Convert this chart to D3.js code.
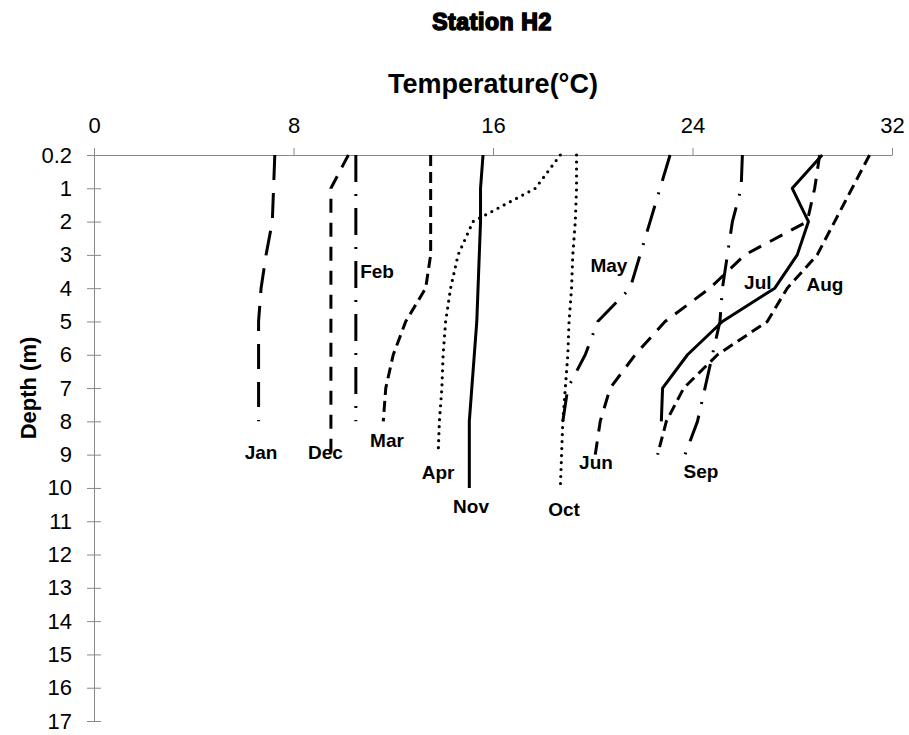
<!DOCTYPE html>
<html>
<head>
<meta charset="utf-8">
<script src="https://cdn.jsdelivr.net/npm/d3@7"></script>
<style>
  body { margin: 0; background: #fff; }
  svg { display: block; font-family: "Liberation Sans", Arial, sans-serif; }
  .axis path, .axis line { stroke: #898989; stroke-width: 1; }
  .axis text { fill: #000; font-size: 22px; }
</style>
</head>
<body>
<svg id="chart" width="909" height="735"></svg>
<script>
// depth levels shown on the y axis (m)
const depthTicks = [0.2, 1, 2, 3, 4, 5, 6, 7, 8, 9, 10, 11, 12, 13, 14, 15, 16, 17];
const tempTicks = [0, 8, 16, 24, 32];

// temperature per depth level (°C), starting at 0.2 m and going down 1, 2, 3 ...
const jan = [7.25, 7.2, 7.15, 6.9, 6.7, 6.6, 6.6, 6.6, 6.6];
const feb = [10.5, 10.5, 10.5, 10.5, 10.5, 10.5, 10.5, 10.5, 10.5];
const mar = [13.5, 13.5, 13.5, 13.5, 13.3, 12.5, 12.0, 11.7, 11.6];
const apr = [18.7, 17.7, 15.2, 14.6, 14.3, 14.1, 14.0, 13.95, 13.85, 13.8];
const may = [23.1, 22.7, 22.3, 21.9, 21.5, 20.2, 19.7, 19.0, 18.8];
const jun = [29.1, 28.9, 28.6, 26.1, 24.7, 22.9, 21.7, 20.7, 20.3, 20.1];
const jul = [29.2, 28.0, 28.65, 28.2, 27.3, 25.2, 23.8, 22.8, 22.75];
const aug = [31.1, 30.4, 29.7, 29.0, 27.8, 27.0, 25.0, 23.65, 22.95, 22.6];
const sep = [26.0, 25.95, 25.6, 25.4, 25.2, 25.1, 24.8, 24.5, 24.2, 23.7];
const oct = [19.35, 19.35, 19.3, 19.2, 19.15, 19.05, 19.0, 18.9, 18.8, 18.75, 18.7];
const nov = [15.6, 15.5, 15.5, 15.45, 15.4, 15.35, 15.25, 15.15, 15.05, 15.05, 15.05];
const dec = [10.2, 9.5, 9.5, 9.5, 9.5, 9.5, 9.5, 9.5, 9.5, 9.5];

const monthNames = ['Jan', 'Feb', 'Mar', 'Apr', 'May', 'Jun', 'Jul', 'Aug', 'Sep', 'Oct', 'Nov', 'Dec'];
const monthTemps = [jan, feb, mar, apr, may, jun, jul, aug, sep, oct, nov, dec];

// where each month's name sits (temperature, depth)
const labelTemp = [6.7, 11.35, 11.75, 13.8, 20.65, 20.13, 26.62, 29.31, 24.34, 18.85, 15.12, 9.28];
const labelDepth = [8.92, 3.48, 8.56, 9.52, 3.3, 9.22, 3.84, 3.9, 9.49, 10.63, 10.54, 8.92];

// line styles, roughly the Excel dash types
const styles = {
  Jan: { dash: '25 13' },
  Feb: { dash: '27 12 2 12' },
  Mar: { dash: '11 6' },
  Apr: { dash: '0 7', cap: 'round' },
  May: { dash: '27 12 2 12' },
  Jun: { dash: '14 10' },
  Jul: { dash: null },
  Aug: { dash: '11 6' },
  Sep: { dash: '27 12 2 12' },
  Oct: { dash: '0 7', cap: 'round' },
  Nov: { dash: null },
  Dec: { dash: '14 10' },
};

const svg = d3.select('#chart');

// ----- scales -----
const x = d3.scaleLinear().domain([0, 32]).range([94, 892]);
const yTop = 155, yBottom = 721;
const step = (yBottom - yTop) / 17;
// 0.2 m sits on the top line, then 1 m per step
const y = d3.scaleLinear().domain([0.2, 1, 17]).range([yTop, yTop + step, yBottom]);

// ----- axes -----
svg.append('g')
  .attr('class', 'axis')
  .attr('transform', `translate(0,${yTop})`)
  .call(d3.axisTop(x).tickValues(tempTicks).tickSize(7).tickSizeOuter(0).tickPadding(15));

const yAxis = svg.append('g')
  .attr('class', 'axis')
  .attr('transform', `translate(${x(0)},0)`)
  .call(d3.axisLeft(y).tickValues(depthTicks).tickSize(7).tickSizeOuter(0).tickPadding(15)
    .tickFormat(d => String(d)));
// ticks cross the axis line
yAxis.selectAll('.tick line').attr('x1', -7).attr('x2', 7);

// ----- profiles -----
const line = d3.line()
  .x(d => x(d.t))
  .y(d => y(d.d));

monthNames.forEach((m, i) => {
  const pts = monthTemps[i].map((t, k) => ({ t, d: depthTicks[k] }));
  const st = styles[m];
  svg.append('path')
    .datum(pts)
    .attr('fill', 'none')
    .attr('stroke', '#000')
    .attr('stroke-width', st.cap === 'round' ? 3.2 : 3)
    .attr('stroke-linecap', st.cap || 'butt')
    .attr('stroke-linejoin', 'round')
    .attr('stroke-dasharray', st.dash)
    .attr('d', line);
});

// ----- month labels -----
svg.append('g')
  .selectAll('text')
  .data(monthNames)
  .join('text')
  .attr('x', (d, i) => x(labelTemp[i]))
  .attr('y', (d, i) => y(labelDepth[i]))
  .attr('text-anchor', 'middle')
  .attr('dy', '0.35em')
  .attr('font-size', 19)
  .attr('font-weight', 'bold')
  .text(d => d);

// ----- titles -----
// heavy title, stroke fakes the Arial Black weight
svg.append('text')
  .attr('x', 492)
  .attr('y', 22)
  .attr('dy', '0.35em')
  .attr('text-anchor', 'middle')
  .attr('font-size', 23)
  .attr('font-weight', 'bold')
  .attr('letter-spacing', 0.6)
  .attr('stroke', '#000')
  .attr('stroke-width', 1.6)
  .text('Station H2');

svg.append('text')
  .attr('x', 493)
  .attr('y', 84)
  .attr('dy', '0.35em')
  .attr('text-anchor', 'middle')
  .attr('font-size', 27)
  .attr('font-weight', 'bold')
  .text('Temperature(°C)');

svg.append('text')
  .attr('transform', 'translate(28,388) rotate(-90)')
  .attr('dy', '0.35em')
  .attr('text-anchor', 'middle')
  .attr('font-size', 22)
  .attr('font-weight', 'bold')
  .text('Depth (m)');
</script>
</body>
</html>
